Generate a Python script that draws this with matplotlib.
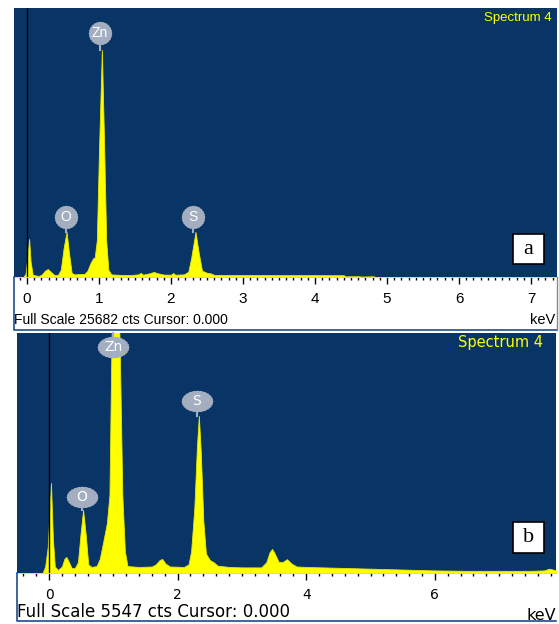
import matplotlib
matplotlib.use("Agg")
import matplotlib.pyplot as plt
from matplotlib.lines import Line2D
from matplotlib.patches import Rectangle
from matplotlib.path import Path
from matplotlib.ticker import MultipleLocator

# ---------------- data ----------------
# panel a spectrum (energy keV, counts)
energy_a = [-0.18, -0.05, -0.02, 0.0, 0.03, 0.05, 0.08, 0.12, 0.16, 0.20, 0.25, 0.29, 0.33, 0.38,
            0.43, 0.47, 0.51, 0.55, 0.58, 0.62, 0.66, 0.72, 0.80, 0.84, 0.88, 0.92, 0.94, 0.97,
            1.00, 1.04, 1.07, 1.10, 1.13, 1.17, 1.30, 1.45, 1.55, 1.58, 1.61, 1.70, 1.76, 1.82,
            1.90, 2.00, 2.03, 2.06, 2.18, 2.24, 2.28, 2.34, 2.38, 2.43, 2.50, 2.55, 2.60, 3.00,
            3.50, 4.00, 4.40, 4.42, 4.60, 4.65, 4.80, 4.85, 7.36]
counts_a = [0, 0, 300, 1500, 3630, 1500, 200, 150, 100, 200, 600, 760, 500, 200,
            200, 700, 2800, 4300, 2500, 400, 250, 280, 300, 600, 1300, 1800, 1850, 3500,
            12000, 21680, 13000, 3500, 700, 250, 200, 200, 250, 400, 220, 350, 480, 350,
            230, 220, 380, 220, 250, 500, 1800, 4300, 2500, 600, 400, 350, 200, 190,
            180, 180, 170, 60, 80, 40, 70, 0, 0]

# panel b spectrum (energy keV, counts)
energy_b = [-0.5, -0.1, -0.06, -0.02, 0.01, 0.03, 0.06, 0.09, 0.14, 0.20, 0.24, 0.27, 0.31, 0.35,
            0.40, 0.45, 0.49, 0.53, 0.57, 0.61, 0.66, 0.74, 0.79, 0.84, 0.90, 0.94, 0.97, 1.00,
            1.06, 1.10, 1.14, 1.18, 1.22, 1.40, 1.60, 1.66, 1.72, 1.76, 1.81, 1.88, 2.10, 2.17,
            2.21, 2.26, 2.30, 2.33, 2.36, 2.40, 2.44, 2.50, 2.56, 2.62, 2.80, 3.00, 3.30, 3.38,
            3.43, 3.47, 3.51, 3.57, 3.63, 3.70, 3.77, 3.85, 4.00, 4.50, 5.00, 5.50, 6.00, 6.50,
            7.00, 7.50, 7.70, 7.78, 7.885]
counts_b = [0, 0, 150, 600, 1500, 2080, 800, 150, 70, 150, 330, 370, 250, 120,
            110, 250, 900, 1455, 900, 200, 140, 160, 330, 700, 1155, 1800, 5200, 7500,
            7500, 5200, 1800, 500, 160, 140, 150, 200, 300, 325, 220, 150, 140, 200,
            500, 1500, 2900, 3630, 2800, 1200, 450, 300, 250, 170, 140, 130, 130, 250,
            480, 555, 450, 260, 250, 320, 220, 150, 140, 120, 100, 80, 60, 50,
            50, 50, 60, 100, 60]

# element labels
elements_a = ["Zn", "O", "S"]
elem_energy_a = [1.01, 0.54, 2.31]
elem_label_y_a = [23300, 5730, 5730]
elem_peak_a = [21680, 4300, 4300]

elements_b = ["Zn", "O", "S"]
elem_energy_b = [1.00, 0.51, 2.30]
elem_label_y_b = [5220, 1756, 3973]
elem_peak_b = [5547, 1455, 3630]

full_scale_a = 25682
full_scale_b = 5547
xticks_a = [0, 1, 2, 3, 4, 5, 6, 7]
xticks_b = [0, 2, 4, 6]

# ---------------- styling ----------------
BG = "#093566"
YEL = "#ffff00"
GRAY = "#a3aec0"
W, H = 559, 624

NARROW = ["Liberation Sans Narrow", "Liberation Sans", "DejaVu Sans"]
WIDE = ["DejaVu Sans"]
SERIF = ["Liberation Serif", "DejaVu Serif"]

fig = plt.figure(figsize=(W / 100, H / 100), dpi=100)
fig.patch.set_facecolor("white")


def fx(x):
    return x / W


def fy(y):
    return 1 - y / H


def rect_axes(x0, y0, x1, y1):
    return fig.add_axes([fx(x0), fy(y1), (x1 - x0) / W, (y1 - y0) / H])


def fig_line(xs, ys, color, lw=1.0):
    fig.add_artist(Line2D([fx(v) for v in xs], [fy(v) for v in ys],
                          transform=fig.transFigure, color=color, lw=lw))


def badge_marker(aspect):
    # scalloped ellipse-like badge outline
    import math
    n = 48
    verts = []
    for i in range(n + 1):
        t = 2 * math.pi * i / n
        r = 1.0 + (0.045 if i % 2 == 0 else -0.0)
        verts.append((r * math.cos(t) * aspect, r * math.sin(t)))
    return Path(verts, closed=True)


def setup_panel(ax, xlim, fs, energy, counts, ticks, minor, font, tick_fs, elems, ee, ely, epk,
                aspect, msize, elem_fs):
    ax.set_facecolor(BG)
    ax.set_xlim(*xlim)
    ax.set_ylim(0, fs)
    ax.fill_between(energy, counts, 0, color=YEL, lw=0.6, edgecolor="#e8e800", zorder=2)
    ax.axvline(0, color="black", lw=1.0, zorder=3)
    for s in ax.spines.values():
        s.set_visible(False)
    ax.set_yticks([])
    ax.set_xticks(ticks)
    ax.xaxis.set_minor_locator(MultipleLocator(minor))
    ax.tick_params(axis="x", which="major", direction="out", length=5, width=1, color="black",
                   pad=6, labelsize=tick_fs)
    ax.tick_params(axis="x", which="minor", direction="out", length=2.5, width=1, color="black")
    for lab in ax.get_xticklabels():
        lab.set_family(font)
    mk = badge_marker(aspect)
    for name, e, ly, pk in zip(elems, ee, ely, epk):
        ax.plot([e, e], [ly, pk], color=GRAY, lw=1.5, zorder=4, clip_on=False)
        ax.plot([e], [ly], marker=mk, markersize=msize, color=GRAY, mec=GRAY, zorder=5,
                clip_on=False)
        ax.text(e, ly, name, color="white", fontsize=elem_fs, family=font, ha="center",
                va="center", zorder=6)


# ---------------- panel a ----------------
ax_a = rect_axes(14, 8, 557, 277)
setup_panel(ax_a, (-0.18, 7.36), full_scale_a, energy_a, counts_a, xticks_a, 0.1, NARROW, 11,
            elements_a, elem_energy_a, elem_label_y_a, elem_peak_a, 1.0, 16, 10)
ax_a.text(0.99, 0.985, "Spectrum 4", transform=ax_a.transAxes, color=YEL, fontsize=9.5,
          family=NARROW, ha="right", va="top")
# white strip borders
fig_line([14, 14, 557], [277, 330, 330], "#1e4c8a", 1.2)
fig_line([557, 557], [277, 330], "#888888", 1.0)
fig.text(fx(14), fy(320), "Full Scale %d cts Cursor: 0.000" % full_scale_a, family=NARROW,
         fontsize=10, ha="left", va="center")
fig.text(fx(555), fy(320), "keV", family=NARROW, fontsize=10.5, ha="right", va="center")
# label box a
fig.add_artist(Rectangle((fx(513), fy(264)), 31 / W, 30 / H, transform=fig.transFigure,
                         fc="white", ec="black", lw=1.2))
fig.text(fx(528.5), fy(250), "a", family=SERIF, fontsize=16, ha="center", va="center")

# ---------------- panel b ----------------
ax_b = rect_axes(17, 333, 556, 573)
setup_panel(ax_b, (-0.498, 7.885), full_scale_b, energy_b, counts_b, xticks_b, 0.2, WIDE, 10,
            elements_b, elem_energy_b, elem_label_y_b, elem_peak_b, 1.5, 22, 10)
ax_b.text((543 - 17) / 539, 1 - (343 - 333) / 240, "Spectrum 4", transform=ax_b.transAxes,
          color=YEL, fontsize=10.5, family=WIDE, ha="right", va="center")
fig_line([17, 17, 556], [573, 621, 621], "#1e4c8a", 1.2)
fig.text(fx(17), fy(612), "Full Scale %d cts Cursor: 0.000" % full_scale_b, family=WIDE,
         fontsize=12, ha="left", va="center")
fig.text(fx(556), fy(615), "keV", family=WIDE, fontsize=11.5, ha="right", va="center")
fig.add_artist(Rectangle((fx(513), fy(553)), 31 / W, 31 / H, transform=fig.transFigure,
                         fc="white", ec="black", lw=1.2))
fig.text(fx(528.5), fy(538), "b", family=SERIF, fontsize=16, ha="center", va="center")

fig.savefig("out.png", dpi=100, facecolor="white")
